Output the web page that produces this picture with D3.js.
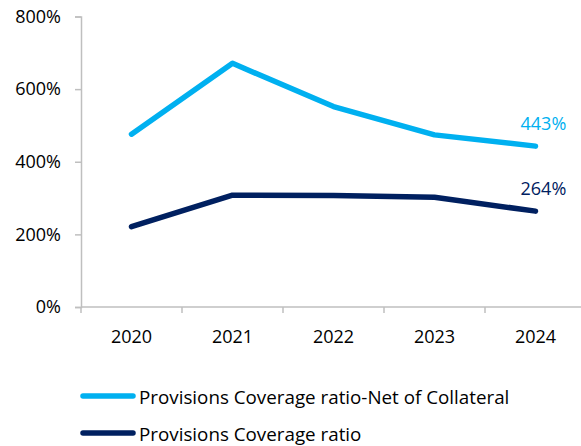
<!DOCTYPE html>
<html>
<head>
<meta charset="utf-8">
<script src="https://cdn.jsdelivr.net/npm/d3@7"></script>
<style>
  html, body { margin: 0; padding: 0; background: #fff; }
  svg { display: block; font-family: "Open Sans", sans-serif; }
</style>
</head>
<body>
<svg id="chart" width="581" height="446"></svg>
<script>
// Coverage ratios by year (percent)
const years = ["2020", "2021", "2022", "2023", "2024"];
const netOfCollateral = [476, 671, 552, 474, 443];
const coverageRatio = [221, 308, 307, 302, 264];
const yTicks = [0, 200, 400, 600, 800];
const seriesNames = ["Provisions Coverage ratio-Net of Collateral", "Provisions Coverage ratio"];
const seriesColors = ["#00B0F0", "#002060"];

const svg = d3.select("#chart");
const x = d3.scaleBand().domain(years).range([81, 586]).padding(0);
const y = d3.scaleLinear().domain([0, 800]).range([307, 16.5]);
const axisColor = "#bfbfbf";

// Y axis
const yAxis = svg.append("g").attr("transform", "translate(81,0)")
  .call(d3.axisLeft(y).tickValues(yTicks).tickSize(6).tickPadding(14).tickFormat(d => d + "%"));
yAxis.select(".domain").attr("stroke", axisColor).attr("stroke-width", 1.5);
yAxis.selectAll(".tick line").attr("stroke", axisColor).attr("stroke-width", 1.5);
yAxis.selectAll(".tick text").attr("font-size", 18).attr("fill", "#000")
  .attr("font-family", "Open Sans, sans-serif");

// X axis with ticks on band boundaries
const xAxisG = svg.append("g").attr("transform", "translate(0,307)");
xAxisG.append("line").attr("x1", 81).attr("x2", 586).attr("y1", 0).attr("y2", 0)
  .attr("stroke", axisColor).attr("stroke-width", 1.5);
const bounds = years.map(d => x(d)).concat([x(years[years.length - 1]) + x.bandwidth()]);
xAxisG.selectAll("line.tk").data(bounds).join("line").attr("class", "tk")
  .attr("x1", d => d).attr("x2", d => d).attr("y1", 0).attr("y2", 6)
  .attr("stroke", axisColor).attr("stroke-width", 1.5);
xAxisG.selectAll("text").data(years).join("text")
  .attr("x", d => x(d) + x.bandwidth() / 2).attr("y", 36)
  .attr("text-anchor", "middle").attr("font-size", 18).attr("fill", "#000").text(d => d);

// Lines
const line = d3.line().x((d, i) => x(years[i]) + x.bandwidth() / 2).y(d => y(d));
[netOfCollateral, coverageRatio].forEach((vals, k) => {
  svg.append("path").datum(vals).attr("d", line).attr("fill", "none")
    .attr("stroke", seriesColors[k]).attr("stroke-width", 5.5)
    .attr("stroke-linecap", "round").attr("stroke-linejoin", "round");
  const last = vals[vals.length - 1];
  svg.append("text")
    .attr("x", x(years[years.length - 1]) + x.bandwidth() / 2 - 15)
    .attr("y", y(last) - 16)
    .attr("font-size", 18).attr("fill", seriesColors[k]).text(last + "%");
});

// Legend
const legend = svg.append("g");
seriesNames.forEach((name, k) => {
  const ly = 396 + k * 37;
  legend.append("line").attr("x1", 83).attr("x2", 133).attr("y1", ly).attr("y2", ly)
    .attr("stroke", seriesColors[k]).attr("stroke-width", 5.5).attr("stroke-linecap", "round");
  legend.append("text").attr("x", 139).attr("y", ly + 8)
    .attr("font-size", 18.8).attr("fill", "#000").text(name);
});
</script>
</body>
</html>
